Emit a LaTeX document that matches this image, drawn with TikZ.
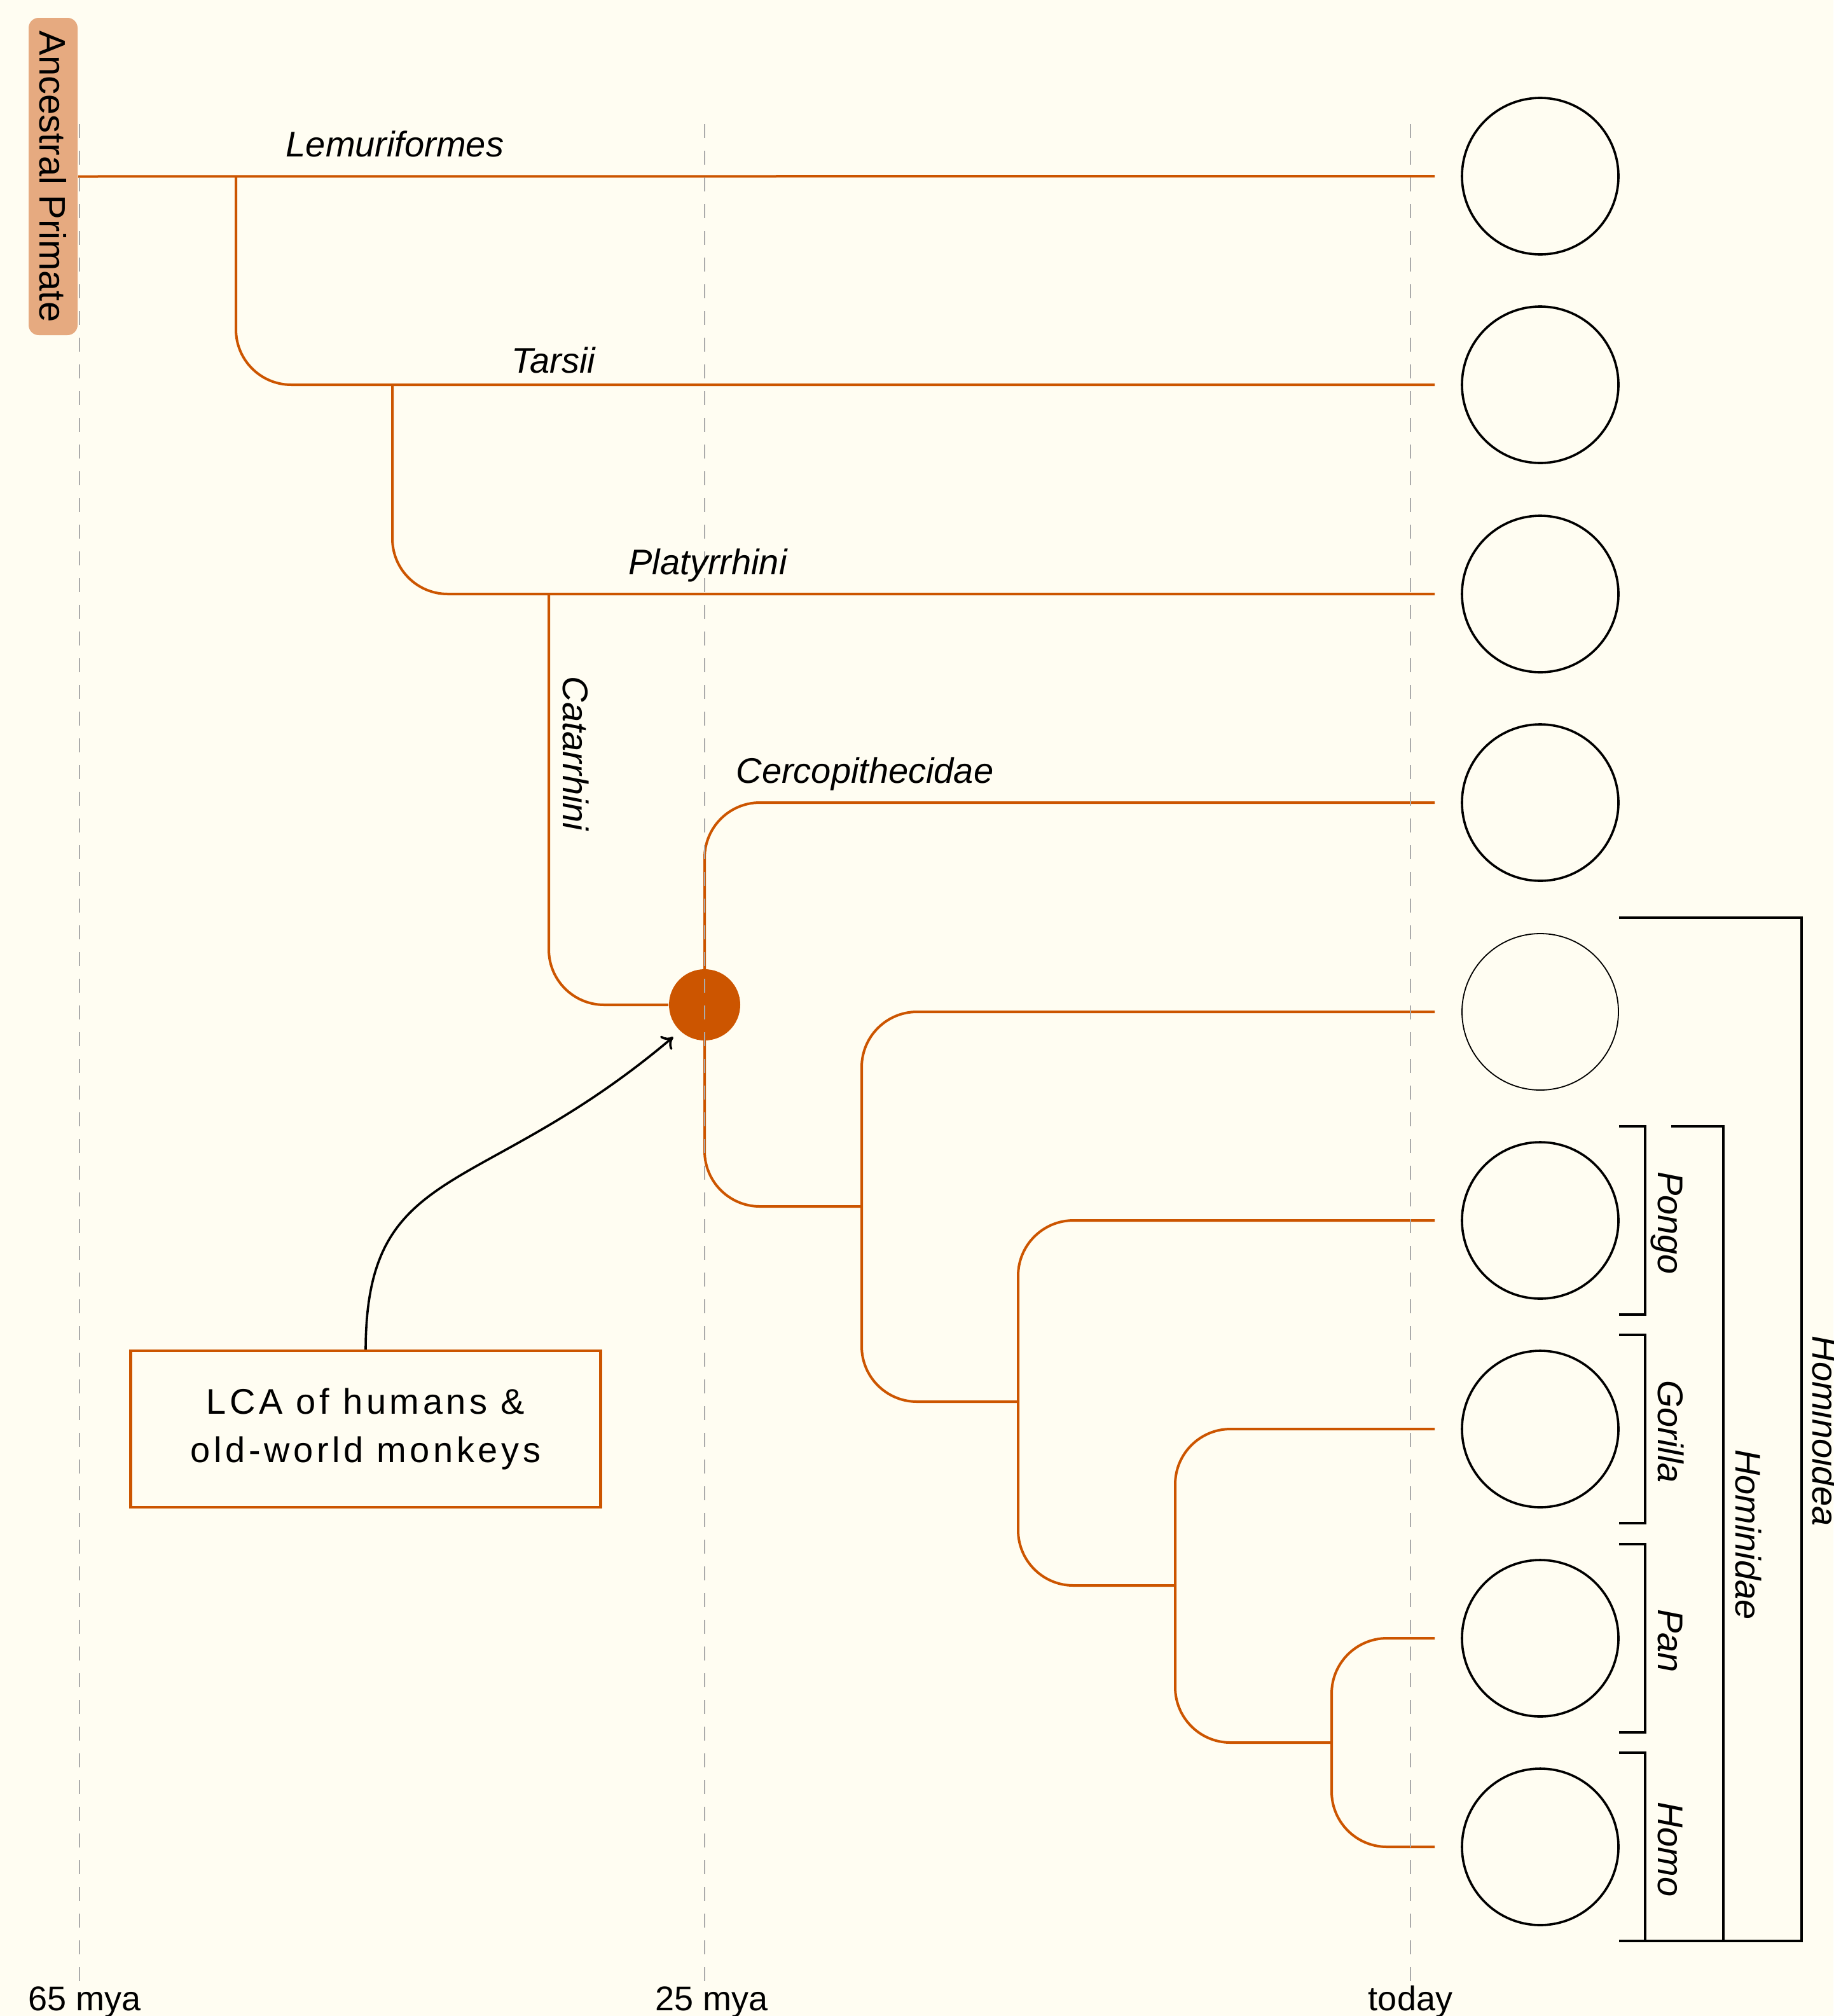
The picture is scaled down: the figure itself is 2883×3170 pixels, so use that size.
\documentclass[tikz,border=0pt]{standalone}
\usepackage{fontspec}
\setmainfont{Liberation Sans}
\newfontfamily\lcafont{Liberation Sans}[LetterSpace=10]
\usetikzlibrary{arrows.meta}
\definecolor{bg}{HTML}{FFFDF2}
\definecolor{br}{HTML}{CC5500}
\definecolor{boxfill}{HTML}{E6AA80}
\definecolor{dashgrey}{HTML}{ABABAB}
\begin{document}
\begin{tikzpicture}[x=0.25pt,y=-0.25pt,
  branch/.style={draw=br, line width=1pt, rounded corners=21.75pt},
  leaf/.style={circle, draw=black, line width=0.9pt, minimum size=61.5pt, inner sep=0pt, fill=bg},
  taxon/.style={font=\fontsize{14}{16}\selectfont\itshape, inner sep=0pt, anchor=base},
  rtaxon/.style={taxon, rotate=-90},
  timeline/.style={draw=dashgrey, line width=0.45pt, dash pattern=on 5.5pt off 5pt},
  bracket/.style={draw=black, line width=1.1pt},
  ticklabel/.style={font=\fontsize{13.5}{16}\selectfont, inner sep=0pt, anchor=base},
  ancbox/.style={fill=boxfill, rounded corners=4pt, rotate=-90, minimum width=124.75pt,
    minimum height=19.25pt, inner sep=0pt, font=\fontsize{14.5}{17}\selectfont},
  notebox/.style={draw=br, line width=1.1pt, fill=bg, minimum width=184.75pt,
    minimum height=61.5pt, align=center, inner sep=0pt, font=\lcafont\fontsize{14}{19}\selectfont},
  ]
\useasboundingbox (0,0) rectangle (2883,3170);
\fill[bg] (0,0) rectangle (2883,3170);

% ancestral box
\node[ancbox] (anc) at (83.5,277.5) {Ancestral Primate};

% leaves
\foreach \i/\y in {1/277,2/605,3/934,4/1262,6/1919,7/2247,8/2576,9/2904}{
  \node[leaf] (c\i) at (2422,\y) {};
}
\node[leaf, line width=0.45pt] (c5) at (2422,1591) {};
\foreach \i/\y in {1/277,2/605,3/934,4/1262,5/1591,6/1919,7/2247,8/2576,9/2904}{
  \coordinate (e\i) at (2256,\y);
}

% internal points
\coordinate (v1) at (371,277);
\coordinate (v2) at (617,605);
\coordinate (v3) at (863,934);
\coordinate (h1) at (1355,1897);
\coordinate (h2) at (1601,2204);
\coordinate (h3) at (1848,2493);
\coordinate (h4) at (2094,2740);

% branches
\draw[branch] (anc.north) -- (e1);
\draw[branch] (v1) |- (e2);
\draw[branch] (v2) |- (e3);
\node[circle, fill=br, minimum size=28pt, inner sep=0pt] (lca) at (1108,1580) {};
\draw[branch] (v3) |- (lca);
\draw[branch] (lca.center) |- (e4);
\draw[branch] (lca.center) |- (h1);
\draw[branch] (h1) |- (e5);
\draw[branch] (h1) |- (h2);
\draw[branch] (h2) |- (e6);
\draw[branch] (h2) |- (h3);
\draw[branch] (h3) |- (e7);
\draw[branch] (h3) |- (h4);
\draw[branch] (h4) |- (e8);
\draw[branch] (h4) |- (e9);

% timelines
\coordinate (t1a) at (125,195);  \coordinate (t1b) at (125,3116);
\coordinate (t2a) at (1108,195); \coordinate (t2b) at (1108,3116);
\coordinate (t3a) at (2218,195); \coordinate (t3b) at (2218,3116);
\draw[timeline] (t1a) -- (t1b);
\draw[timeline] (t2a) -- (t2b);
\draw[timeline] (t3a) -- (t3b);
\node[ticklabel] (l65) at (133,3161) {65 mya};
\node[ticklabel] (l25) at (1119,3161) {25 mya};
\node[ticklabel] (ltoday) at (2218,3161) {today};

% taxon labels
\node[taxon] (tLem) at (621,246) {Lemuriformes};
\node[taxon] (tTar) at (870,586) {Tarsii};
\node[taxon] (tPla) at (1113,903) {Platyrrhini};
\node[taxon] (tCer) at (1360,1231) {Cercopithecidae};
\node[rtaxon] (tCat) at (885,1185) {Catarrhini};

% brackets
\foreach \y in {1919,2247,2576,2904}{
  \draw[bracket] (2546,{\y-148}) -| (2587,{\y+148}) -- (2546,{\y+148});
}
\draw[bracket] (2628,1771) -| (2710,3052);
\draw[bracket] (2546,1443) -| (2833,3052) -- (2546,3052);
\node[rtaxon] (tPon) at (2607,1923) {Pongo};
\node[rtaxon] (tGor) at (2607,2251) {Gorilla};
\node[rtaxon] (tPan) at (2607,2580) {Pan};
\node[rtaxon] (tHom) at (2607,2908) {Homo};
\node[rtaxon] (tHid) at (2729,2413) {Hominidae};
\node[rtaxon] (tHoi) at (2850,2250) {Hominoidea};

% note box and arrow
\node[notebox] (lcabox) at (575,2247) {LCA of humans \&\\old-world monkeys};
\draw[black, line width=0.9pt, -{To[length=4pt,width=7pt]}, shorten >=3.5pt]
  (lcabox.north) .. controls (576,1824) and (754,1888) .. (lca.227);
\end{tikzpicture}
\end{document}
